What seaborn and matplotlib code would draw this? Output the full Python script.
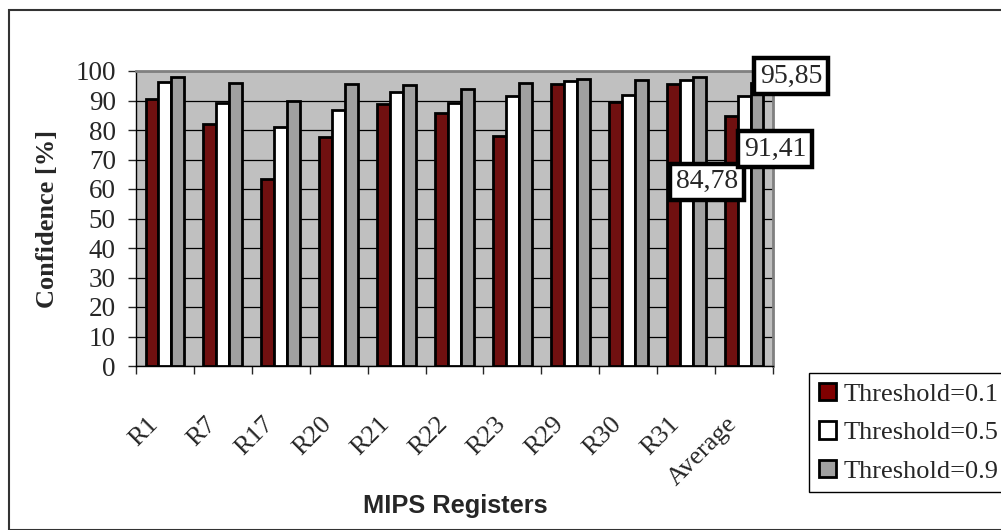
import matplotlib
matplotlib.use("Agg")
import matplotlib.pyplot as plt
import matplotlib.transforms as mtransforms
from matplotlib.patches import Patch, Rectangle
import seaborn as sns
import pandas as pd
import numpy as np

registers = ["R1", "R7", "R17", "R20", "R21", "R22", "R23", "R29", "R30", "R31", "Average"]
thr_01 = [90.5, 82.0, 63.3, 77.7, 88.7, 85.6, 77.8, 95.5, 89.6, 95.7, 84.78]
thr_05 = [96.4, 89.2, 81.1, 86.8, 92.9, 89.2, 91.4, 96.5, 91.9, 96.9, 91.41]
thr_09 = [98.0, 96.0, 89.9, 95.7, 95.1, 93.9, 96.1, 97.3, 96.9, 98.0, 95.85]
series_names = ["Threshold=0.1", "Threshold=0.5", "Threshold=0.9"]
colors = ["#800000", "#FFFFFF", "#A0A0A0"]

df = pd.DataFrame({
    "register": registers * 3,
    "confidence": thr_01 + thr_05 + thr_09,
    "threshold": [s for s in series_names for _ in registers],
})

sns.set_style("white")
plt.rcParams["font.family"] = ["Liberation Serif", "DejaVu Serif"]

fig = plt.figure(figsize=(10.01, 5.30), dpi=100)
ax = fig.add_axes([136 / 1001, 1 - 366 / 530, 637 / 1001, 295 / 530])
ax.set_facecolor("#C0C0C0")

sns.barplot(
    data=df, x="register", y="confidence", hue="threshold",
    palette=colors, edgecolor="black", linewidth=2, width=0.67,
    ax=ax, legend=False, zorder=3,
)

ax.set_ylim(0, 100)
ax.set_xlim(-0.5, len(registers) - 0.5)
ax.set_yticks(np.arange(0, 101, 10))
ax.yaxis.grid(True, color="black", linewidth=0.9, zorder=0)
ax.set_axisbelow(True)
ax.set_xlabel("")
ax.set_ylabel("")

for side in ["left", "bottom"]:
    ax.spines[side].set_color("black")
    ax.spines[side].set_linewidth(1.0)
for side in ["top", "right"]:
    ax.spines[side].set_color("#808080")
    ax.spines[side].set_linewidth(2.0)

ax.tick_params(axis="y", direction="out", length=6, width=1, labelsize=19.5, pad=8.5, left=True)
ax.set_xticks(np.arange(-0.5, len(registers), 1), minor=True)
ax.tick_params(axis="x", which="minor", direction="out", length=6, width=1, bottom=True)
ax.tick_params(axis="x", which="major", length=0, labelsize=19, pad=34)
offset = mtransforms.ScaledTranslation(-18 / 100, 0, fig.dpi_scale_trans)
for lab in ax.get_xticklabels():
    lab.set_rotation(45)
    lab.set_ha("right")
    lab.set_va("top")
    lab.set_rotation_mode("anchor")
    lab.set_transform(lab.get_transform() + offset)

# data labels on the Average group
avg_idx = len(registers) - 1
dodge_w = 0.67 / 3
label_offsets = [(-24, -66), (31, -53), (34, 7)]
for k, vals in enumerate([thr_01, thr_05, thr_09]):
    xb = avg_idx + (k - 1) * dodge_w
    ax.annotate(
        f"{vals[avg_idx]:.2f}".replace(".", ","),
        xy=(xb, vals[avg_idx]), xytext=label_offsets[k], textcoords="offset pixels",
        ha="center", va="center", fontsize=20, zorder=10, annotation_clip=False,
        bbox=dict(boxstyle="square,pad=0.2", fc="white", ec="black", lw=3.2),
    )

handles = [Patch(facecolor=c, edgecolor="black", linewidth=2) for c in colors]
leg = fig.legend(
    handles, series_names, loc="upper left",
    bbox_to_anchor=(809 / 1001, 1 - 373 / 530), fontsize=19,
    frameon=True, fancybox=False, edgecolor="black", framealpha=1,
    handlelength=0.65, handleheight=0.65, handletextpad=0.3,
    labelspacing=0.58, borderpad=0.37, borderaxespad=0,
)
leg.get_frame().set_linewidth(1.0)

fig.text(48 / 1001, 1 - 219 / 530, "Confidence [%]", rotation=90, ha="center", va="center",
         fontsize=19, fontweight="bold")
fig.text(455 / 1001, 1 - 506 / 530, "MIPS Registers", ha="center", va="center",
         fontsize=18.3, fontweight="bold", family=["Liberation Sans", "DejaVu Sans"])

fig.patches.append(Rectangle((9 / 1001, 0), 1.2, 1 - 10 / 530, transform=fig.transFigure,
                             fill=False, edgecolor="#333333", linewidth=1.5))

fig.savefig("out.png", dpi=100)
